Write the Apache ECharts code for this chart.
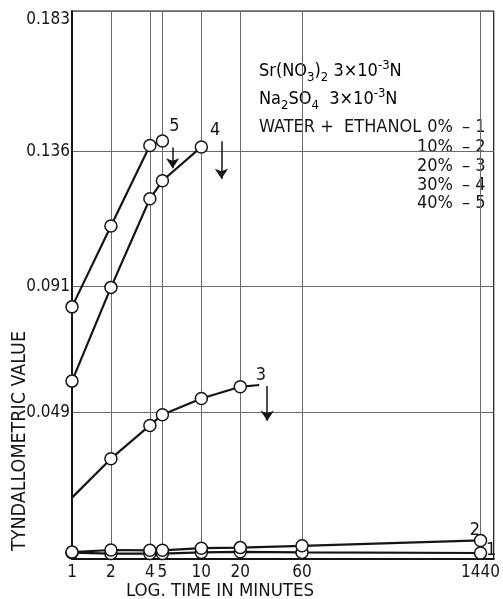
<!DOCTYPE html>
<html>
<head>
<meta charset="utf-8">
<script src="https://cdn.jsdelivr.net/npm/echarts@6/dist/echarts.min.js"></script>
<style>
html,body{margin:0;padding:0;background:#fff;}
#chart{width:503px;height:599px;}
</style>
</head>
<body>
<div id="chart"></div>
<script>
// ---- data ----
const xTicks = [1, 2, 4, 5, 10, 20, 60, 1440];          // minutes (log scale)
const yTicks = [0.049, 0.091, 0.136, 0.183];             // tyndallometric value

const time12 = [1, 2, 4, 5, 10, 20, 60, 1440];
const series1 = [0.0021, 0.0018, 0.0018, 0.0018, 0.0022, 0.0024, 0.0022, 0.0020]; // 0 %
const series2 = [0.0023, 0.0030, 0.0029, 0.0029, 0.0036, 0.0038, 0.0044, 0.0062]; // 10 %
const time3 = [1, 2, 4, 5, 10, 20, 28];
const series3 = [0.0205, 0.0335, 0.0446, 0.0482, 0.0536, 0.0575, 0.0581];         // 20 %
const marked3 = [false, true, true, true, true, true, false];
const time4 = [1, 2, 4, 5, 10];
const series4 = [0.0594, 0.0907, 0.1203, 0.1263, 0.1376];                         // 30 %
const time5 = [1, 2, 4, 5];
const series5 = [0.0842, 0.1112, 0.1381, 0.1396];                                 // 40 %

// curve labels and arrows (data coordinates)
const curveLabels = [
  {name: '1', t: 1740, v: 0.0030},
  {name: '2', t: 1300, v: 0.0096},
  {name: '3', t: 28.8, v: 0.0612},
  {name: '4', t: 12.8, v: 0.1430},
  {name: '5', t: 6.2, v: 0.1445}
];
const arrows = [
  {t: 6.0, from: 0.1374, to: 0.1305},
  {t: 14.3, from: 0.1395, to: 0.1270},
  {t: 32.3, from: 0.0578, to: 0.0462}
];

const FONT = "'DejaVu Sans Condensed', 'Liberation Sans Narrow', 'DejaVu Sans', sans-serif";
const INK = '#151515';

function pairs(ts, vs, marks) {
  return ts.map((t, i) => {
    const item = {value: [t, vs[i]]};
    if (marks && !marks[i]) item.symbol = 'none';
    return item;
  });
}

function lineSeries(name, ts, vs, marks) {
  return {
    name: name,
    type: 'line',
    data: pairs(ts, vs, marks),
    symbol: 'circle',
    symbolSize: 12,
    showAllSymbol: true,
    lineStyle: {color: INK, width: 2.2},
    itemStyle: {color: '#fff', borderColor: INK, borderWidth: 1.5},
    emphasis: {disabled: true},
    animation: false,
    z: 3
  };
}

const chart = echarts.init(document.getElementById('chart'), null, {renderer: 'canvas'});

const seriesList = [
  lineSeries('0%', time12, series1),
  lineSeries('10%', time12, series2),
  lineSeries('20%', time3, series3, marked3),
  lineSeries('30%', time4, series4),
  lineSeries('40%', time5, series5)
];

// annotation series (labels + arrows)
seriesList.push({
  type: 'scatter',
  data: [],
  silent: true,
  animation: false,
  z: 6,
  markPoint: {
    symbol: 'circle',
    symbolSize: 1,
    z: 6,
    itemStyle: {color: 'rgba(0,0,0,0)'},
    label: {show: true, position: 'inside', color: INK, fontSize: 18, fontFamily: FONT, formatter: p => p.name},
    data: curveLabels.map(c => ({name: c.name, coord: [c.t, c.v]}))
  },
  markLine: {
    silent: true,
    symbol: ['none', 'arrow'],
    symbolSize: 10,
    z: 6,
    label: {show: false},
    lineStyle: {color: INK, width: 1.5, type: 'solid'},
    data: arrows.map(a => [{coord: [a.t, a.from]}, {coord: [a.t, a.to]}])
  }
});

const option = {
  backgroundColor: '#fff',
  animation: false,
  grid: {left: 72, right: 2, top: 11, bottom: 40, show: true, borderColor: INK, borderWidth: 1.2},
  xAxis: {
    type: 'log',
    logBase: 10,
    min: 1,
    max: 1820,
    axisLine: {show: true, lineStyle: {color: INK, width: 2}},
    axisTick: {show: false, customValues: xTicks},
    axisLabel: {customValues: xTicks, color: INK, fontSize: 17, fontFamily: FONT, margin: 5, formatter: v => String(Math.round(v))},
    splitLine: {show: true, lineStyle: {color: '#6a6a6a', width: 1}},
    minorSplitLine: {show: false}
  },
  yAxis: {
    type: 'value',
    min: 0,
    max: 0.183,
    axisLine: {show: true, lineStyle: {color: INK, width: 2}},
    axisTick: {show: false, customValues: yTicks},
    axisLabel: {customValues: yTicks, color: INK, fontSize: 17, fontFamily: FONT, margin: 2, verticalAlignMaxLabel: 'top', formatter: v => String(v)},
    splitLine: {show: true, lineStyle: {color: '#6a6a6a', width: 1}}
  },
  graphic: [
    {type: 'text', x: 220, y: 591, style: {text: 'LOG. TIME IN MINUTES', fill: INK, font: '18.5px ' + FONT, textAlign: 'center', textVerticalAlign: 'middle'}},
    {type: 'text', x: 20, y: 441, rotation: Math.PI / 2, style: {text: 'TYNDALLOMETRIC VALUE', fill: INK, font: '19.5px ' + FONT, textAlign: 'center', textVerticalAlign: 'middle'}},
    {type: 'text', x: 259, y: 59, style: {
      text: '{a|Sr(NO}{s|3}{a|)}{s|2}{a| 3×10}{p|-3}{a|N}',
      rich: {
        a: {fontSize: 18, fontFamily: FONT, color: INK, lineHeight: 25},
        s: {fontSize: 13, fontFamily: FONT, color: INK, lineHeight: 13, verticalAlign: 'bottom'},
        p: {fontSize: 13, fontFamily: FONT, color: INK, lineHeight: 13, verticalAlign: 'top'}
      }
    }},
    {type: 'text', x: 259, y: 87, style: {
      text: '{a|Na}{s|2}{a|SO}{s|4}{a|  3×10}{p|-3}{a|N}',
      rich: {
        a: {fontSize: 18, fontFamily: FONT, color: INK, lineHeight: 25},
        s: {fontSize: 13, fontFamily: FONT, color: INK, lineHeight: 13, verticalAlign: 'bottom'},
        p: {fontSize: 13, fontFamily: FONT, color: INK, lineHeight: 13, verticalAlign: 'top'}
      }
    }},
    {type: 'text', x: 259, y: 127, style: {text: 'WATER +  ETHANOL', fill: INK, font: '18px ' + FONT, textAlign: 'left', textVerticalAlign: 'middle'}},
    {type: 'text', x: 453, y: 127, style: {text: '0%', fill: INK, font: '18px ' + FONT, textAlign: 'right', textVerticalAlign: 'middle'}},
    {type: 'text', x: 462, y: 127, style: {text: '– 1', fill: INK, font: '18px ' + FONT, textAlign: 'left', textVerticalAlign: 'middle'}},
    {type: 'text', x: 453, y: 147, style: {text: '10%', fill: INK, font: '18px ' + FONT, textAlign: 'right', textVerticalAlign: 'middle'}},
    {type: 'text', x: 462, y: 147, style: {text: '– 2', fill: INK, font: '18px ' + FONT, textAlign: 'left', textVerticalAlign: 'middle'}},
    {type: 'text', x: 453, y: 166, style: {text: '20%', fill: INK, font: '18px ' + FONT, textAlign: 'right', textVerticalAlign: 'middle'}},
    {type: 'text', x: 462, y: 166, style: {text: '– 3', fill: INK, font: '18px ' + FONT, textAlign: 'left', textVerticalAlign: 'middle'}},
    {type: 'text', x: 453, y: 185, style: {text: '30%', fill: INK, font: '18px ' + FONT, textAlign: 'right', textVerticalAlign: 'middle'}},
    {type: 'text', x: 462, y: 185, style: {text: '– 4', fill: INK, font: '18px ' + FONT, textAlign: 'left', textVerticalAlign: 'middle'}},
    {type: 'text', x: 453, y: 203, style: {text: '40%', fill: INK, font: '18px ' + FONT, textAlign: 'right', textVerticalAlign: 'middle'}},
    {type: 'text', x: 462, y: 203, style: {text: '– 5', fill: INK, font: '18px ' + FONT, textAlign: 'left', textVerticalAlign: 'middle'}}
  ],
  series: seriesList
};

chart.setOption(option);
</script>
</body>
</html>
